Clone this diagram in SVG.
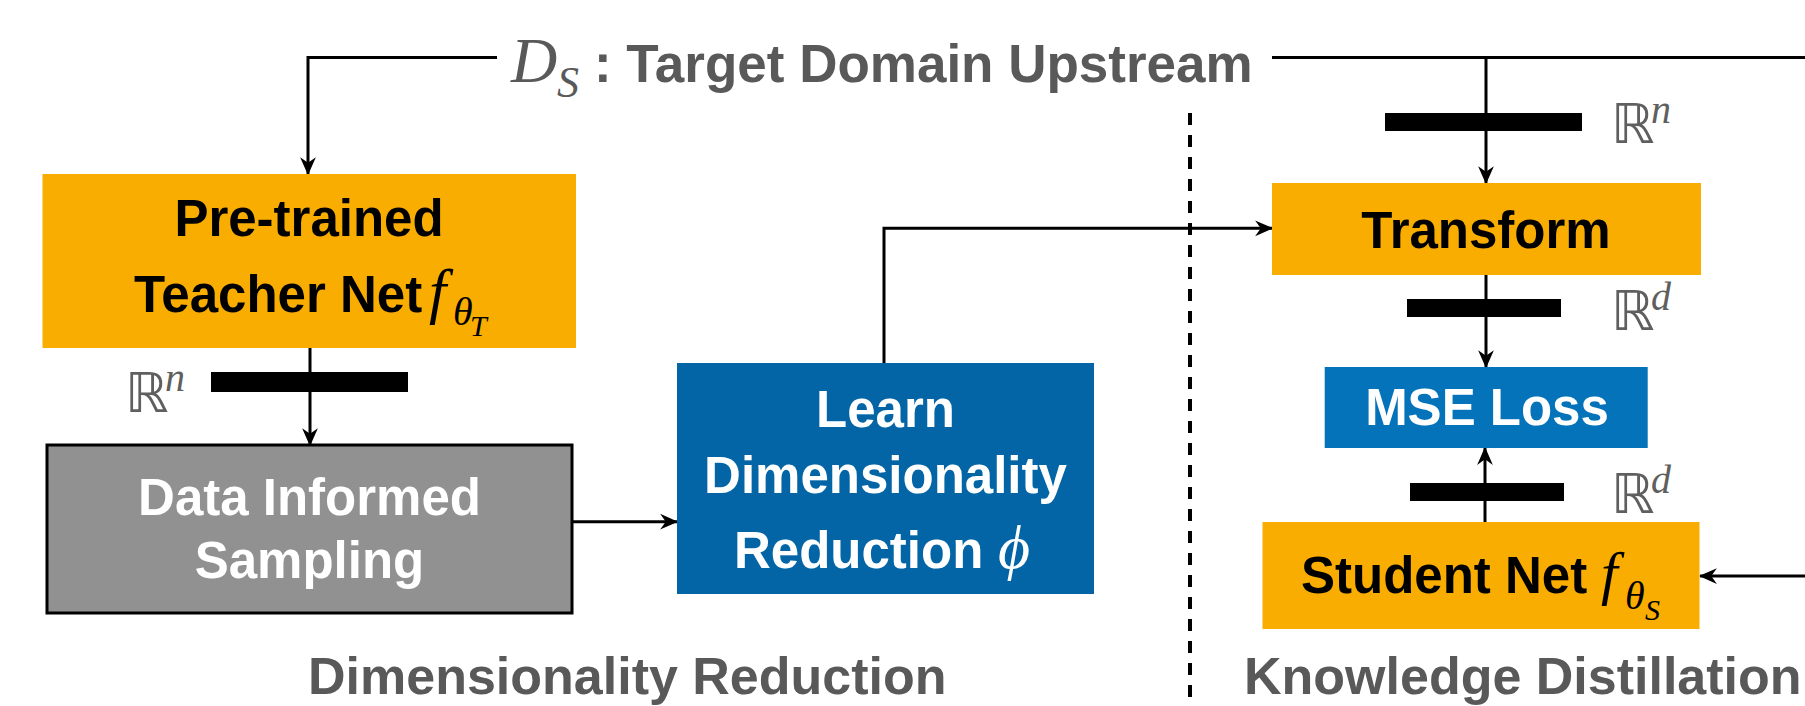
<svg xmlns="http://www.w3.org/2000/svg" width="1805" height="706" viewBox="0 0 1805 706">
<style>
.t{font-family:"Liberation Sans",Arial,Helvetica,sans-serif;font-weight:bold;font-size:51px}
.c{text-anchor:middle}
.blk{fill:#000}
.wht{fill:#fff}
.gry{fill:#595959}
.sec{font-family:"Liberation Sans",Arial,Helvetica,sans-serif;font-weight:bold;font-size:52px;fill:#595959}
.m{font-family:"Liberation Serif","DejaVu Serif","Times New Roman",serif;font-style:italic}
.bb{font-family:"DejaVu Sans",sans-serif;font-size:55px;fill:#5f5f5f}
.bbs{font-family:"Liberation Serif","DejaVu Serif",serif;font-style:italic;font-size:40px;fill:#5f5f5f}
.conn{fill:none;stroke:#000;stroke-width:3}
.bar{fill:#000}
.orange{fill:#F9AD00}
</style>
<defs>
<marker id="arr" viewBox="0 0 16 16" refX="15" refY="8" markerWidth="18" markerHeight="18" markerUnits="userSpaceOnUse" orient="auto">
<path d="M0,1 L16,8 L0,15 L5,8 Z" fill="#000"/>
</marker>
</defs>
<rect width="1805" height="706" fill="#fff"/>

<!-- divider -->
<line x1="1190" y1="113" x2="1190" y2="706" stroke="#000" stroke-width="4" stroke-dasharray="12 10"/>

<g id="connectors">
<path class="conn" d="M497,57.5 H308 V174" marker-end="url(#arr)"/>
<path class="conn" d="M1272,57.5 H1805"/>
<path class="conn" d="M1486,57.5 V183" marker-end="url(#arr)"/>
<path class="conn" d="M310,348 V445" marker-end="url(#arr)"/>
<path class="conn" d="M572,521.7 H677" marker-end="url(#arr)"/>
<path class="conn" d="M884,363 V228.3 H1272" marker-end="url(#arr)"/>
<path class="conn" d="M1486,275 V367" marker-end="url(#arr)"/>
<path class="conn" d="M1485,522 V448" marker-end="url(#arr)"/>
<path class="conn" d="M1805,576 H1700" marker-end="url(#arr)"/>
<rect class="bar" x="211" y="372" width="197" height="20"/>
<rect class="bar" x="1385" y="113" width="197" height="18"/>
<rect class="bar" x="1407" y="299" width="154" height="18"/>
<rect class="bar" x="1410" y="483" width="154" height="18"/>
</g>

<g id="title">
<text class="m gry" x="511" y="81.5" font-size="64">D</text>
<text class="m gry" x="557" y="97" font-size="44">S</text>
<text class="t gry" x="594" y="81.5" style="font-size:53px">: Target Domain Upstream</text>
</g>

<g id="dims">
<text class="bb" x="125" y="412">ℝ</text><text class="bbs" x="165" y="391">n</text>
<text class="bb" x="1611" y="143">ℝ</text><text class="bbs" x="1651" y="123">n</text>
<text class="bb" x="1611" y="330">ℝ</text><text class="bbs" x="1651" y="310">d</text>
<text class="bb" x="1611" y="513">ℝ</text><text class="bbs" x="1651" y="493">d</text>
</g>

<g id="teacher">
<rect class="orange" x="42.5" y="174" width="533.5" height="174"/>
<text class="t c blk" x="309" y="236">Pre-trained</text>
<text class="t blk" x="134" y="312">Teacher Net</text>
<text class="m blk" x="429" y="312" font-size="62">f</text>
<text class="m blk" x="453" y="325" font-size="40">θ</text>
<text class="m blk" x="470" y="336" font-size="30">T</text>
</g>

<g id="sampling">
<rect x="47" y="445" width="525" height="168" fill="#919191" stroke="#000" stroke-width="3"/>
<text class="t c wht" x="309.5" y="515">Data Informed</text>
<text class="t c wht" x="309.5" y="578">Sampling</text>
</g>

<g id="learn">
<rect x="677" y="363" width="417" height="231" fill="#0365A5"/>
<text class="t c wht" x="885.5" y="427">Learn</text>
<text class="t c wht" x="885.5" y="493">Dimensionality</text>
<text class="t wht" x="734" y="568">Reduction</text>
<text class="m wht" x="998" y="568" font-size="62">ϕ</text>
</g>

<g id="transform">
<rect class="orange" x="1272" y="183" width="429" height="92"/>
<text class="t c blk" x="1486" y="248">Transform</text>
</g>

<g id="mse">
<rect x="1324.7" y="367" width="323" height="81" fill="#0473BA"/>
<text class="t c wht" x="1487" y="425">MSE Loss</text>
</g>

<g id="student">
<rect class="orange" x="1262.5" y="522" width="437" height="107"/>
<text class="t blk" x="1301" y="593">Student Net</text>
<text class="m blk" x="1601" y="593" font-size="60">f</text>
<text class="m blk" x="1625" y="609" font-size="40">θ</text>
<text class="m blk" x="1645" y="620" font-size="30">S</text>
</g>

<g id="sections">
<text class="sec" x="308" y="694">Dimensionality Reduction</text>
<text class="sec" x="1244" y="694">Knowledge Distillation</text>
</g>
</svg>
